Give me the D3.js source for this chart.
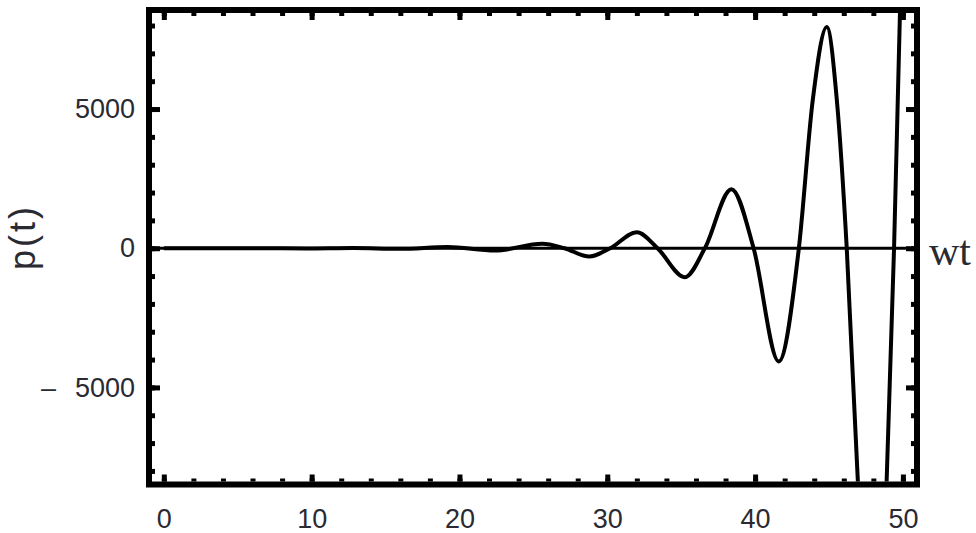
<!DOCTYPE html>
<html>
<head>
<meta charset="utf-8">
<script src="https://cdn.jsdelivr.net/npm/d3@7"></script>
<style>
  body { margin: 0; background: #fff; }
  text { font-family: "Liberation Sans", Arial, sans-serif; fill: #2a2a33; }
</style>
</head>
<body>
<svg id="chart" width="976" height="533"></svg>
<script>
// values
var tValues = [0, 3.2, 6.4, 9.6, 12.8, 16.0, 19.2, 22.4, 25.6, 27.1, 28.8, 30.2, 32.0, 33.4,
  35.25, 36.6, 38.4, 39.9, 41.6, 42.96, 43.9, 44.85, 45.53, 46.2, 46.95, 48.0, 48.9, 49.4, 49.8, 50.75]
var pValues = [0, -2, 3, -6, 12, -23, 45, -83, 160, 0, -300, 0, 575, 0,
  -1043, 0, 2122, 0, -4065, 0, 5320, 7950, 5320, 0, -8350, -15000, -8350, 0, 8450, 24000]

var xMajor = [0, 10, 20, 30, 40, 50]
var xMinor = d3.range(0, 51, 2)
var yMajor = [-5000, 0, 5000]
var yMinor = d3.range(-8000, 8001, 1000)

var plotLeft = 152, plotRight = 914, plotTop = 13, plotBottom = 481.5

var svg = d3.select("#chart")

var x = d3.scaleLinear().domain([-0.8, 50.75]).range([plotLeft, plotRight])
var y = d3.scaleLinear().domain([-8380, 8450]).range([plotBottom, plotTop])

svg.append("clipPath").attr("id", "plot-clip")
  .append("rect")
  .attr("x", plotLeft).attr("y", plotTop)
  .attr("width", plotRight - plotLeft).attr("height", plotBottom - plotTop)

// zero axis line
svg.append("line")
  .attr("x1", plotLeft).attr("x2", plotRight - 4)
  .attr("y1", y(0)).attr("y2", y(0))
  .attr("stroke", "#000")
  .attr("stroke-width", 3)

var points = tValues.map(function(t, i){ return [t, pValues[i]] })

var line = d3.line()
  .x(function(d){ return x(d[0]) })
  .y(function(d){ return y(d[1]) })
  .curve(d3.curveMonotoneX)

svg.append("path")
  .datum(points)
  .attr("clip-path", "url(#plot-clip)")
  .attr("fill", "none")
  .attr("stroke", "#000")
  .attr("stroke-width", 4)
  .attr("stroke-linejoin", "round")
  .attr("d", line)

function styleAxis(g){
  g.select(".domain").remove()
  g.selectAll(".tick line").attr("stroke", "#000").attr("stroke-width", 5)
  g.selectAll(".tick text").style("font-size", "27px")
}

function minusFmt(d){
  return d < 0 ? "\u2013\u2002\u2009" + Math.abs(d) : String(d)
}

// bottom
svg.append("g").attr("transform", "translate(0," + plotBottom + ")")
  .call(d3.axisBottom(x).tickValues(xMinor).tickSize(-3).tickFormat(""))
  .call(styleAxis)
svg.append("g").attr("transform", "translate(0," + plotBottom + ")")
  .call(d3.axisBottom(x).tickValues(xMajor).tickSize(-7).tickPadding(27).tickFormat(d3.format("d")))
  .call(styleAxis)

// top
svg.append("g").attr("transform", "translate(0," + plotTop + ")")
  .call(d3.axisTop(x).tickValues(xMinor).tickSize(-3).tickFormat(""))
  .call(styleAxis)
svg.append("g").attr("transform", "translate(0," + plotTop + ")")
  .call(d3.axisTop(x).tickValues(xMajor).tickSize(-7).tickFormat(""))
  .call(styleAxis)

// left
svg.append("g").attr("transform", "translate(" + plotLeft + ",0)")
  .call(d3.axisLeft(y).tickValues(yMinor).tickSize(-3).tickFormat(""))
  .call(styleAxis)
svg.append("g").attr("transform", "translate(" + plotLeft + ",0)")
  .call(d3.axisLeft(y).tickValues(yMajor).tickSize(-8).tickPadding(17).tickFormat(minusFmt))
  .call(styleAxis)

// right
svg.append("g").attr("transform", "translate(" + plotRight + ",0)")
  .call(d3.axisRight(y).tickValues(yMinor).tickSize(-3).tickFormat(""))
  .call(styleAxis)
svg.append("g").attr("transform", "translate(" + plotRight + ",0)")
  .call(d3.axisRight(y).tickValues(yMajor).tickSize(-8).tickFormat(""))
  .call(styleAxis)

// frame
svg.append("rect")
  .attr("x", plotLeft - 3).attr("y", plotTop - 3)
  .attr("width", plotRight - plotLeft + 6).attr("height", plotBottom - plotTop + 6)
  .attr("fill", "none")
  .attr("stroke", "#000")
  .attr("stroke-width", 6)

svg.append("text")
  .attr("transform", "translate(35," + 237 + ") rotate(-90)")
  .attr("text-anchor", "middle")
  .style("font-size", "36px")
  .style("letter-spacing", "3px")
  .text("p(t)")

svg.append("text")
  .attr("x", 929).attr("y", 265)
  .style("font-family", "'Liberation Serif', serif")
  .style("font-size", "42px")
  .text("wt")
</script>
</body>
</html>
